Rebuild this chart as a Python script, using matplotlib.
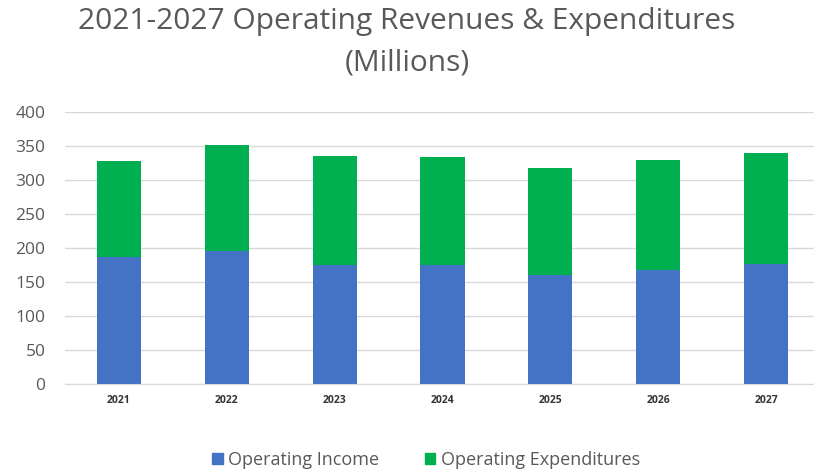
import matplotlib.pyplot as plt
import numpy as np
from matplotlib.patches import Patch

years = ["2021", "2022", "2023", "2024", "2025", "2026", "2027"]
income = [187, 195, 175, 175, 161, 168, 176]
expenditures = [141, 157, 160, 159, 157, 162, 164]

BLUE = "#4472C4"
GREEN = "#00B050"
GRAY = "#595959"

plt.rcParams['font.family'] = ['Open Sans', 'DejaVu Sans']

fig = plt.figure(figsize=(8.14, 4.72), dpi=100)
ax = fig.add_axes([65 / 814, 1 - 384 / 472, (814 - 65) / 814, 272 / 472])

x = np.arange(len(years))
ax.bar(x, income, width=0.41, color=BLUE, zorder=3)
ax.bar(x, expenditures, width=0.41, bottom=income, color=GREEN, zorder=3)

ax.set_xlim(-0.5, 6.5 - 6 / 108)
ax.set_ylim(0, 400)
ax.set_yticks(range(0, 401, 50))
ax.set_xticks(x)
ax.set_xticklabels(years, fontsize=7.5, fontweight="bold", color="#333333")
ax.tick_params(axis="y", labelsize=12.5, labelcolor=GRAY, length=0, pad=14)
ax.tick_params(axis="x", length=0, pad=8)
ax.grid(axis="y", color="#d9d9d9", linewidth=1, zorder=0)
for side in ["top", "right", "left"]:
    ax.spines[side].set_visible(False)
ax.spines["bottom"].set_color("#d9d9d9")

fig.text(0.5, 1 - 22 / 472, "2021-2027 Operating Revenues & Expenditures",
         ha="center", va="center", fontsize=21.5, color=GRAY)
fig.text(0.5, 1 - 63 / 472, "(Millions)", ha="center", va="center",
         fontsize=21.5, color=GRAY)

handles = [Patch(color=BLUE, label="Operating Income"),
           Patch(color=GREEN, label="Operating Expenditures")]
fig.legend(handles=handles, loc="center", bbox_to_anchor=(426 / 814, 1 - 460 / 472),
           ncol=2, frameon=False, fontsize=13, labelcolor=GRAY,
           handlelength=0.6, handleheight=0.6, handletextpad=0.3, columnspacing=2.5)

fig.savefig("out.png", dpi=100)
